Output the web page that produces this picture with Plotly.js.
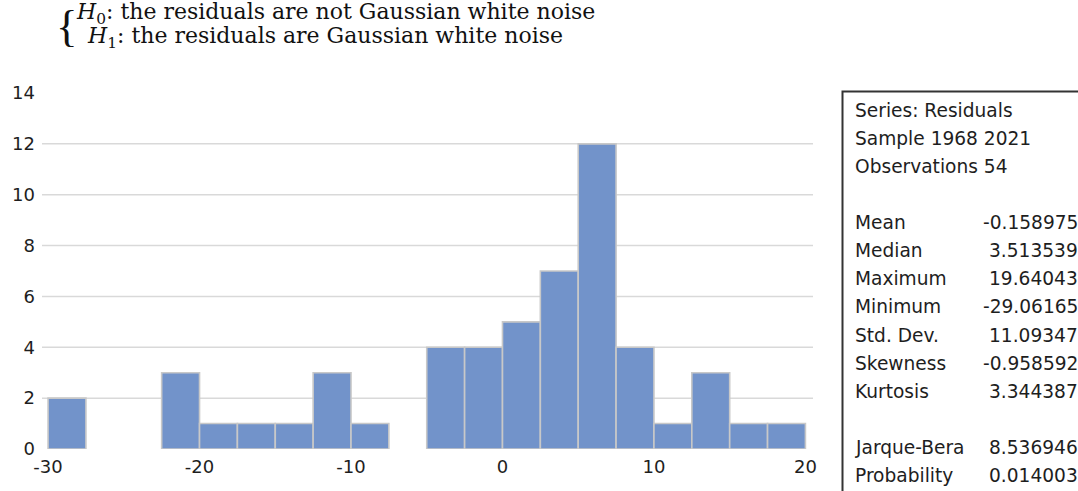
<!DOCTYPE html>
<html>
<head>
<meta charset="utf-8">
<script src="https://cdn.plot.ly/plotly-3.0.1.min.js"></script>
<style>html,body{margin:0;padding:0;background:#fff;}</style>
</head>
<body>
<div id="chart" style="width:1078px;height:491px;"></div>
<script>
// ---- data ----
const binStart = [-30, -27.5, -25, -22.5, -20, -17.5, -15, -12.5, -10, -7.5, -5, -2.5, 0, 2.5, 5, 7.5, 10, 12.5, 15, 17.5];
const binCounts = [2, 0, 0, 3, 1, 1, 1, 3, 1, 0, 4, 4, 5, 7, 12, 4, 1, 3, 1, 1];
const binWidth = 2.5;
const xTicks = [-30, -20, -10, 0, 10, 20];
const xTickText = ["-30", "-20", "-10", "0", "10", "20"];
const yTicks = [0, 2, 4, 6, 8, 10, 12, 14];
const yGrid = [2, 4, 6, 8, 10, 12];

const hypothesisLines = [
  "<i>H</i><sub>0</sub>: the residuals are not Gaussian white noise",
  "<i>H</i><sub>1</sub>: the residuals are Gaussian white noise"
];
const statHeader = ["Series: Residuals", "Sample 1968 2021", "Observations 54"];
const statLabels = ["Mean", "Median", "Maximum", "Minimum", "Std. Dev.", "Skewness", "Kurtosis"];
const statValues = ["-0.158975", "3.513539", "19.64043", "-29.06165", "11.09347", "-0.958592", "3.344387"];
const testLabels = ["Jarque-Bera", "Probability"];
const testValues = ["8.536946", "0.014003"];

// ---- layout geometry ----
const W = 1078, H = 491;
const M = {l: 42, r: 265, t: 93, b: 42};
const PW = W - M.l - M.r, PH = H - M.t - M.b;
const px2x = px => (px - M.l) / PW;
const px2y = py => (H - M.b - py) / PH;

const keep = binCounts.map(c => c > 0);
const barX = binStart.filter((_, i) => keep[i]);
const barY = binCounts.filter((_, i) => keep[i]);

const trace = {
  type: 'bar',
  x: barX,
  y: barY,
  width: binWidth,
  offset: 0,
  marker: {color: '#7293CA', line: {color: '#C8C8C8', width: 1.6}},
  hoverinfo: 'x+y',
  showlegend: false
};

const shapes = yGrid.map(v => ({
  type: 'line', xref: 'paper', yref: 'y', x0: 0, x1: 1, y0: v, y1: v,
  layer: 'below', line: {color: '#D9D9D9', width: 1.5}
}));
shapes.push({
  type: 'rect', xref: 'paper', yref: 'paper',
  x0: px2x(842.5), x1: px2x(1100), y0: px2y(520), y1: px2y(91.5),
  line: {color: '#333333', width: 2}, fillcolor: 'rgba(0,0,0,0)', layer: 'above'
});

const annotations = [];
const textColor = '#1e1e1e';
const statFont = {family: 'DejaVu Sans', size: 18.6, color: textColor};
function addText(text, px, py, anchor, font) {
  annotations.push({
    text: text, xref: 'paper', yref: 'paper', x: px2x(px), y: px2y(py),
    xanchor: anchor, yanchor: 'middle', showarrow: false, borderpad: 0, font: font
  });
}
// hypotheses
addText('{', 79, 26, 'right', {family: 'Liberation Serif', size: 45, color: '#111'});
addText(hypothesisLines[0], 75, 14, 'left', {family: 'DejaVu Serif', size: 22, color: '#111'});
addText(hypothesisLines[1], 86, 38, 'left', {family: 'DejaVu Serif', size: 22, color: '#111'});

// stats box
const base0 = 116.7, step = 28.1, lift = 6.5;
statHeader.forEach((t, i) => addText(t, 854, base0 + step * i - lift, 'left', statFont));
statLabels.forEach((t, i) => {
  addText(t, 854, base0 + step * (i + 4) - lift, 'left', statFont);
  addText(statValues[i], 1079, base0 + step * (i + 4) - lift, 'right', statFont);
});
testLabels.forEach((t, i) => {
  addText(t, 854, base0 + step * (i + 12) - lift, 'left', statFont);
  addText(testValues[i], 1079, base0 + step * (i + 12) - lift, 'right', statFont);
});

const tickFont = {family: 'DejaVu Sans', size: 18, color: textColor};
const layout = {
  width: W, height: H, autosize: false,
  margin: M,
  paper_bgcolor: '#fff', plot_bgcolor: '#fff',
  showlegend: false,
  bargap: 0,
  xaxis: {
    range: [-30.4, 20.5], tickvals: xTicks, ticktext: xTickText, ticks: '', showgrid: false,
    zeroline: false, showline: false, tickfont: tickFont, ticklabelstandoff: 5
  },
  yaxis: {
    range: [0, 14], tickvals: yTicks, ticks: '', showgrid: false,
    zeroline: false, showline: false, tickfont: tickFont, ticklabelstandoff: 6
  },
  shapes: shapes,
  annotations: annotations
};

Plotly.newPlot('chart', [trace], layout, {displayModeBar: false, staticPlot: true});
</script>
</body>
</html>
